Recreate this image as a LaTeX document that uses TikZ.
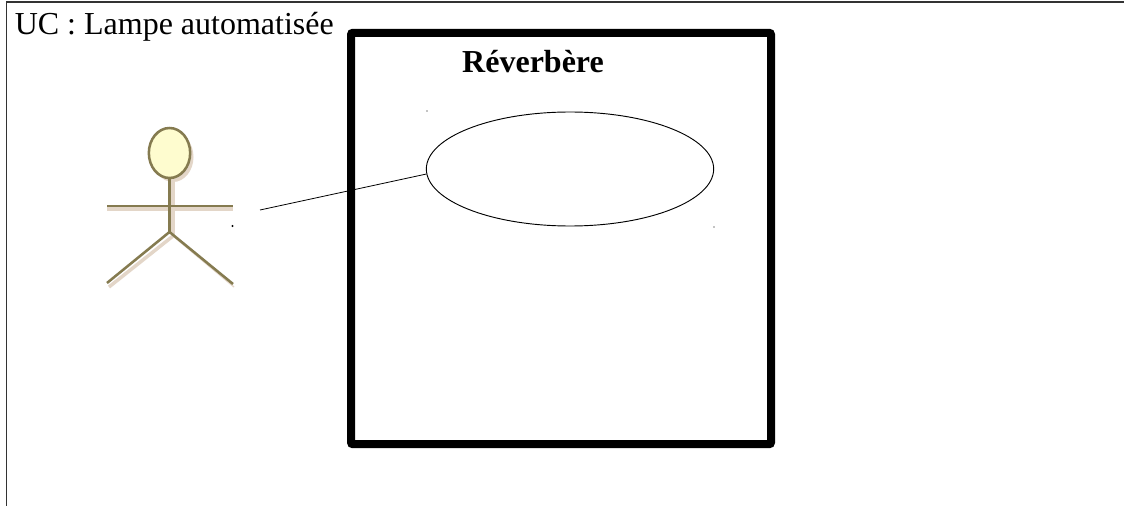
\documentclass[tikz,border=0pt]{standalone}
\usepackage{fontspec}
\setmainfont{Liberation Serif}
\usetikzlibrary{shapes.geometric}
\definecolor{actorline}{HTML}{857B50}
\definecolor{actorshadow}{HTML}{E3D6C8}
\definecolor{headfill}{HTML}{FEFCCF}
\tikzset{
  x=0.75pt,y=-0.75pt,
  actorstroke/.style={draw=actorline,line width=1.9pt},
  shadowstroke/.style={draw=actorshadow,line width=2.6pt},
  thinline/.style={draw=black,line width=0.6pt},
  speck/.style={fill=black,inner sep=0pt,minimum size=1pt,circle},
}
\begin{document}
\begin{tikzpicture}
\useasboundingbox (0,0) rectangle (1124,506);
\fill[white] (0,0) rectangle (1124,506);
% page edge
\draw[line width=0.8pt,black!80] (6.5,506) -- (6.5,2) -- (1124,2);
\node[anchor=base west,inner sep=0pt,font=\fontsize{24pt}{28pt}\selectfont] (title) at (14.5,34.5) {UC : Lampe automatisée};
% system boundary
\node[draw=black,line width=6pt,rounded corners=1.5pt,rectangle,minimum width=315pt,minimum height=308.6pt,inner sep=0pt,anchor=center] (system) at (561,238.5) {};
\node[anchor=base,inner sep=0pt,font=\bfseries\fontsize{24pt}{28pt}\selectfont] (systitle) at (533,72.5) {Réverbère};
% use case
\node[draw=black,line width=0.7pt,ellipse,minimum width=215.5pt,minimum height=85.5pt,inner sep=0pt] (usecase) at (570,169) {};
% actor shadow
\fill[actorshadow] (173,157) ellipse [x radius=20.5,y radius=25];
\draw[shadowstroke] (173,180) -- (173,236);
\draw[shadowstroke] (107,209) -- (233,209);
\draw[shadowstroke] (109,287) -- (173,236);
\draw[shadowstroke,line width=1pt] (173,236) -- (234,287);
% actor
\node[actorstroke,ellipse,fill=headfill,minimum width=31pt,minimum height=37.5pt,inner sep=0pt] (head) at (169.5,153) {};
\coordinate (hip) at (169.5,232);
\coordinate (armL) at (107,206);
\coordinate (armR) at (233,206);
\coordinate (footL) at (107,283);
\coordinate (footR) at (233,284);
\draw[actorstroke] (head.south) -- (hip);
\draw[actorstroke] (armL) -- (armR);
\draw[actorstroke] (footL) -- (hip) -- (footR);
% association
\coordinate (assocend) at (260,210);
\draw[thinline] (assocend) -- (usecase.182.4);
% specks
\node[speck,minimum size=1.8pt] (s1) at (232.5,226) {};
\node[speck,minimum size=1pt] (s2) at (427,111) {};
\node[speck,minimum size=1pt] (s3) at (714,227) {};
\end{tikzpicture}
\end{document}
